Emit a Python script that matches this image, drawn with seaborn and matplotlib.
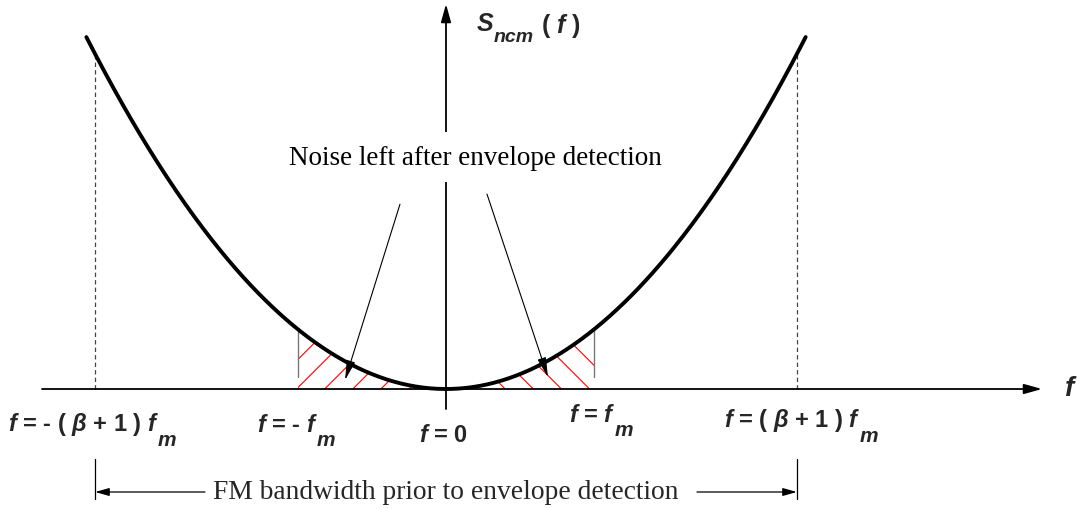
import numpy as np
import matplotlib
matplotlib.use("Agg")
import matplotlib.pyplot as plt
import seaborn as sns
import pandas as pd

# ---- spectrum definition (frequencies in units of f_m) ----
f_m = 1.0
beta = 1.37
curve_gain = 1.0                      # S_ncm(f) = gain * f^2
f_extent = 2.43                       # span of the drawn parabola
band_edge = (beta + 1) * f_m          # FM bandwidth edge

tick_pos = [-band_edge, -f_m, 0.0, f_m, band_edge]
tick_labels = [r"$f$ = - ( $\beta$ + 1 ) $f$",
               r"$f$ = - $f$",
               r"$f$ = 0",
               r"$f$ = $f$",
               r"$f$ = ( $\beta$ + 1 ) $f$"]
tick_subscripts = ["m", "m", "", "m", "m"]
tick_label_y = [-0.69, -0.71, -0.87, -0.54, -0.62]
tick_label_dx = [-0.08, -0.07, -0.02, -0.01, -0.03]

# ---- figure layout (pixels per unit) ----
PX_F, PX_S = 148.0, 59.6
X0, Y0 = 446.0, 390.0
W, H = 1080, 510

sns.set_theme(style="white")
plt.rcParams["font.family"] = ["Liberation Serif", "DejaVu Serif"]
plt.rcParams["mathtext.fontset"] = "custom"
plt.rcParams["mathtext.it"] = "Liberation Sans:bold:italic"
plt.rcParams["mathtext.rm"] = "Liberation Sans:bold"
plt.rcParams["mathtext.bf"] = "Liberation Sans:bold"

fig = plt.figure(figsize=(W / 100, H / 100), dpi=100)
ax = fig.add_axes([0, 0, 1, 1])
ax.set_xlim(-X0 / PX_F, (W - X0) / PX_F)
ax.set_ylim(-(H - Y0) / PX_S, Y0 / PX_S)
ax.set_axis_off()

curve = pd.DataFrame({"f": np.linspace(-f_extent, f_extent, 401)})
curve["S"] = curve_gain * curve["f"] ** 2
sns.lineplot(data=curve, x="f", y="S", ax=ax, color="black", lw=2.8,
             legend=False, zorder=5)

def S_of(f):
    return curve_gain * f ** 2

# axes with arrowheads
ax.annotate("", xy=((1042 - X0) / PX_F, 0), xytext=((42 - X0) / PX_F, 0),
            arrowprops=dict(arrowstyle="-|>,head_length=0.9,head_width=0.25",
                            color="black", lw=1.3, shrinkA=0, shrinkB=0))
ax.annotate("", xy=(0, (Y0 - 5) / PX_S), xytext=(0, -20 / PX_S),
            arrowprops=dict(arrowstyle="-|>,head_length=0.9,head_width=0.25",
                            color="black", lw=1.3, shrinkA=0, shrinkB=0))

# dashed band edges
for fe in (-band_edge, band_edge):
    ax.plot([fe, fe], [0, S_of(fe)], ls=(0, (3.5, 2.5)), color="#444444", lw=0.9)

# hatched noise regions inside |f| < f_m
slope = PX_F / PX_S
hatch_left = [-1.20, -1.01, -0.82, -0.63, -0.44, -0.25]
hatch_right = [0.21, 0.40, 0.59, 0.78, 0.97, 1.16]
for side, offsets, sgn in ((-1, hatch_left, 1), (1, hatch_right, -1)):
    fs = np.linspace(0, side * f_m, 100)
    poly = ax.fill_between(fs, 0, S_of(fs), facecolor="none", edgecolor="none")
    clip = poly.get_paths()[0]
    for f0 in offsets:
        xs = np.array([f0, f0 + sgn * 1.0])
        ys = sgn * slope * (xs - f0)
        ln, = ax.plot(xs, ys, color="red", lw=0.8)
        ln.set_clip_path(clip, ax.transData)
    ax.plot([side * f_m, side * f_m], [12 / PX_S, S_of(f_m)],
            color="#777777", lw=1.0)

# noise annotation
ax.text(0.196, 3.89, "Noise left after envelope detection", fontsize=19.5,
        ha="center", va="center", color="black", zorder=10,
        bbox=dict(facecolor="white", edgecolor="none",
                  boxstyle="square,pad=0.45"))
arrow_kw = dict(arrowstyle="-|>,head_length=1.0,head_width=0.22",
                color="black", lw=0.8, shrinkA=0, shrinkB=0)
ax.annotate("", xy=(-0.682, 0.15), xytext=(-0.311, 3.10), arrowprops=arrow_kw)
ax.annotate("", xy=(0.689, 0.20), xytext=(0.277, 3.27), arrowprops=arrow_kw)

# frequency labels with dropped subscripts
label_kw = dict(family="Liberation Sans", weight="bold")
for x, lab, sub, y, dx in zip(tick_pos, tick_labels, tick_subscripts,
                              tick_label_y, tick_label_dx):
    t = ax.text(x + dx, y, lab, fontsize=17, ha="center", va="baseline",
                **label_kw)
    if sub:
        ax.annotate(sub, xy=(1, 0), xycoords=t, xytext=(-1, -6),
                    textcoords="offset points", fontsize=15, ha="left",
                    va="baseline", style="italic", **label_kw)
ax.text((1071 - X0) / PX_F, 0, r"$f$", fontsize=20, ha="center", va="center")

# ordinate label S_ncm(f)
s_txt = ax.text((477 - X0) / PX_F, (Y0 - 31) / PX_S, "S", fontsize=18,
                ha="left", va="baseline", style="italic", **label_kw)
sub_txt = ax.annotate("ncm", xy=(1, 0), xycoords=s_txt, xytext=(0, -4),
                      textcoords="offset points", fontsize=14, ha="left",
                      va="baseline", style="italic", **label_kw)
ax.annotate(r"( $f$ )", xy=(1, 0), xycoords=sub_txt, xytext=(5, 9),
            textcoords="offset points", fontsize=18, ha="left",
            va="baseline", **label_kw)

# FM bandwidth marker
y_bw = (Y0 - 493) / PX_S
for fe in (-band_edge, band_edge):
    ax.plot([fe, fe], [(Y0 - 460) / PX_S, (Y0 - 500) / PX_S],
            color="black", lw=0.9)
bw_kw = dict(arrowstyle="-|>,head_length=0.7,head_width=0.2", color="black",
             lw=0.9, shrinkA=0, shrinkB=0)
ax.annotate("", xy=(-band_edge, y_bw), xytext=((205 - X0) / PX_F, y_bw),
            arrowprops=bw_kw)
ax.annotate("", xy=(band_edge, y_bw), xytext=((697 - X0) / PX_F, y_bw),
            arrowprops=bw_kw)
ax.text(0.0, y_bw, "FM bandwidth prior to envelope detection", fontsize=19.8,
        ha="center", va="center")

fig.savefig("out.png", dpi=100, facecolor="white")
